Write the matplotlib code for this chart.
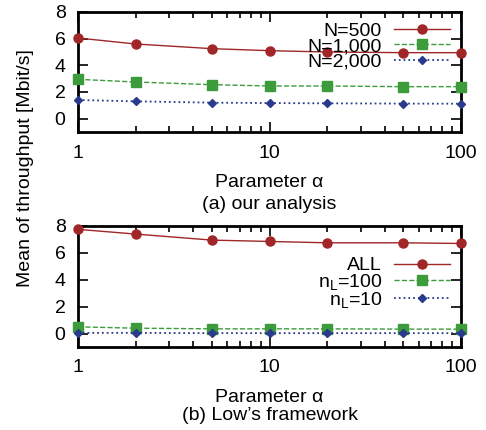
import matplotlib
matplotlib.use("Agg")
import matplotlib.pyplot as plt

plt.rcParams['font.family'] = ['Liberation Sans', 'DejaVu Sans']
plt.rcParams['mathtext.fontset'] = 'custom'
plt.rcParams['mathtext.rm'] = 'Liberation Sans'
plt.rcParams['mathtext.it'] = 'Liberation Sans'

# data
alpha = [1, 2, 5, 10, 20, 50, 100]

ours_labels = ['N=500', 'N=1,000', 'N=2,000']
ours_n500 = [6.05, 5.6, 5.25, 5.1, 5.0, 4.95, 4.95]
ours_n1000 = [2.95, 2.75, 2.55, 2.45, 2.45, 2.4, 2.4]
ours_n2000 = [1.4, 1.3, 1.2, 1.17, 1.15, 1.13, 1.12]

low_labels = ['ALL', r'n$_\mathrm{L}$=100', r'n$_\mathrm{L}$=10']
low_all = [7.75, 7.4, 6.95, 6.85, 6.75, 6.75, 6.7]
low_nl100 = [0.5, 0.4, 0.35, 0.35, 0.35, 0.33, 0.33]
low_nl10 = [0.05, 0.05, 0.03, 0.03, 0.03, 0.03, 0.03]

red = '#a02628'
green = '#3c9c3c'
blue = '#2a3a8c'
styles = [
    dict(color=red, ls='-', marker='o', ms=6.5, lw=1.0),
    dict(color=green, ls='--', marker='s', ms=6.5, lw=1.0),
    dict(color=blue, ls=':', marker='D', ms=4.0, lw=1.3),
]

fig = plt.figure(figsize=(4.86, 4.30), dpi=100)
W, H = 486.0, 430.0
ax1 = fig.add_axes([78 / W, 1 - 132 / H, 383 / W, 120 / H])
ax2 = fig.add_axes([78 / W, 1 - 347 / H, 383 / W, 121 / H])


def style_axis(ax):
    ax.set_xscale('log')
    ax.set_xlim(1, 100)
    ax.set_ylim(-1, 8)
    ax.set_yticks([0, 2, 4, 6, 8])
    ax.set_xticks([1, 10, 100])
    ax.set_xticklabels(['1', '10', '100'])
    ax.tick_params(which='both', direction='in', top=True, right=True,
                   labelsize=14, width=1.2)
    ax.tick_params(which='major', length=7, pad=9)
    ax.tick_params(which='minor', length=4)
    ax.tick_params(axis='y', which='minor', left=False, right=False)
    for s in ax.spines.values():
        s.set_linewidth(2.0)
    ax.set_xlabel('Parameter α', fontsize=14, labelpad=9)


for ax, series, labels in [
    (ax1, [ours_n500, ours_n1000, ours_n2000], ours_labels),
    (ax2, [low_all, low_nl100, low_nl10], low_labels),
]:
    for y, lab, st in zip(series, labels, styles):
        ax.plot(alpha, y, label=lab, clip_on=False, zorder=3, **st)
    style_axis(ax)

leg_kw = dict(frameon=False, markerfirst=False, fontsize=14, handlelength=2.9,
              handletextpad=0.6, labelspacing=-0.12, borderaxespad=0,
              loc='upper right')
ax1.legend(bbox_to_anchor=(0.992, 0.98), **leg_kw)
ax2.legend(bbox_to_anchor=(0.992, 0.81), **leg_kw)

ax1.text(0.5, -0.53, '(a) our analysis', transform=ax1.transAxes,
         ha='center', va='top', fontsize=14)
ax2.text(0.5, -0.50, "(b) Low’s framework", transform=ax2.transAxes,
         ha='center', va='top', fontsize=14)

fig.text(26 / W, 1 - 168 / H, 'Mean of throughput [Mbit/s]', rotation=90,
         ha='center', va='center', fontsize=14)

fig.savefig('out.png', dpi=100)
